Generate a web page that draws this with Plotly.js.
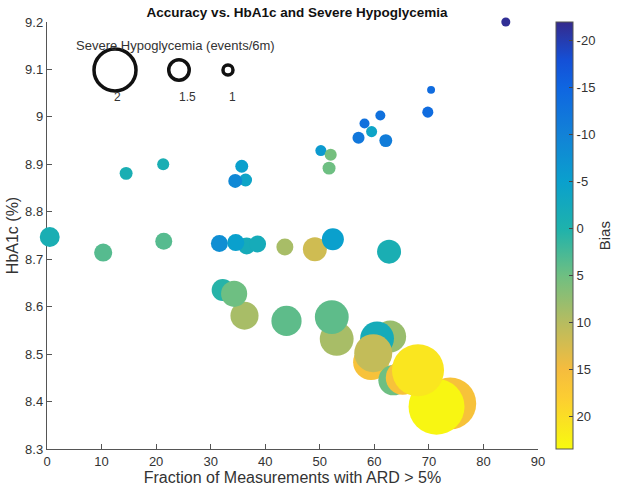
<!DOCTYPE html>
<html>
<head>
<meta charset="utf-8">
<script src="https://cdn.plot.ly/plotly-3.0.1.min.js"></script>
<style>html,body{margin:0;padding:0;background:#fff;}#chart{width:628px;height:488px;}</style>
</head>
<body>
<div id="chart"></div>
<script>
// Fraction of measurements with ARD > 5% (%)
var fractionARD = [84.1, 70.4, 69.8, 61.1, 58.2, 59.5, 57.1, 62.1, 50.2, 52.0, 51.7, 14.5, 21.3, 35.7, 36.4, 34.5,
  0.5, 10.3, 21.4, 31.6, 36.6, 34.6, 38.6, 43.6, 49.1, 52.4, 62.7,
  36.2, 32.2, 34.3, 43.9, 53.1, 52.2, 62.9, 60.5, 59.4, 59.8, 63.5, 65.2, 73.9, 71.4, 68.0];
// HbA1c (%)
var hba1c = [9.2, 9.057, 9.01, 9.003, 8.986, 8.969, 8.956, 8.95, 8.929, 8.92, 8.892, 8.881, 8.9, 8.896, 8.867, 8.865,
  8.747, 8.714, 8.738, 8.733, 8.728, 8.735, 8.732, 8.726, 8.721, 8.742, 8.716,
  8.581, 8.635, 8.627, 8.57, 8.532, 8.578, 8.537, 8.533, 8.483, 8.502, 8.445, 8.45, 8.396, 8.389, 8.466];
// Severe hypoglycemia (events/6m)
var severeHypo = [0.93, 0.84, 1.07, 1.0, 1.0, 1.07, 1.13, 1.18, 1.07, 1.13, 1.18, 1.18, 1.13, 1.18, 1.18, 1.23,
  1.48, 1.41, 1.37, 1.37, 1.37, 1.37, 1.37, 1.37, 1.61, 1.55, 1.61,
  1.72, 1.55, 1.67, 1.77, 1.85, 1.85, 1.81, 1.85, 1.89, 1.93, 1.77, 1.85, 2.15, 2.2, 2.15];
// Bias
var bias = [-21.5, -14, -14, -13, -13, -4, -12, -11, -6, 5.5, 5, -1, -1, -5, -4, -9,
  -1, 3.5, 3.5, -8, -2, -5, -2, 9, 12, -5, -1,
  9, 0.5, 5, 4, 9, 4, 8, -2, 16, 11, 5, 16, 16, 23, 21];

// size legend
var legendHypo = [2, 1.5, 1];
var legendLabels = ['2', '1.5', '1'];
var colorbarTicks = [-20, -15, -10, -5, 0, 5, 10, 15, 20];
var xTicks = [0, 10, 20, 30, 40, 50, 60, 70, 80, 90];
var yTicks = [8.3, 8.4, 8.5, 8.6, 8.7, 8.8, 8.9, 9.0, 9.1, 9.2];

var biasMin = -22, biasMax = 23.5;

function hypoToSize(v) { return 10 * Math.exp(1.435 * (v - 1)); }

// parula-like stops in bias-fraction space (0 = low bias, 1 = high bias)
var parula = [
  [0.0, 'rgb(53,42,140)'],
  [0.09, 'rgb(20,80,215)'],
  [0.154, 'rgb(15,102,225)'],
  [0.264, 'rgb(18,130,215)'],
  [0.374, 'rgb(10,160,205)'],
  [0.484, 'rgb(30,178,172)'],
  [0.593, 'rgb(110,191,130)'],
  [0.703, 'rgb(182,188,96)'],
  [0.813, 'rgb(245,188,62)'],
  [0.879, 'rgb(252,205,50)'],
  [1.0, 'rgb(248,250,15)']
];
// colorbar is reversed (negative bias at the top): plot -bias with the flipped scale
var colorscale = parula.map(function (s) { return [1 - s[0], s[1]]; }).reverse();
var negBias = bias.map(function (b) { return -b; });

var FONT = 'Liberation Sans, Arial, sans-serif';

var main = {
  type: 'scatter', mode: 'markers',
  x: fractionARD, y: hba1c,
  cliponaxis: false,
  hoverinfo: 'skip',
  marker: {
    size: severeHypo.map(hypoToSize), sizemode: 'diameter',
    color: negBias, cmin: -biasMax, cmax: -biasMin,
    colorscale: colorscale, showscale: true,
    line: { width: 0 }, opacity: 1,
    colorbar: {
      x: 1.037, xanchor: 'left', xref: 'paper', xpad: 0, ypad: 0,
      y: 0.5, yanchor: 'middle', len: 1, lenmode: 'fraction',
      thickness: 17, outlinewidth: 1, outlinecolor: '#555',
      tickmode: 'array', tickvals: colorbarTicks,
      ticktext: colorbarTicks.map(function (t) { return String(-t); }),
      ticks: 'inside', ticklen: 4, tickcolor: '#444',
      tickfont: { family: FONT, size: 13, color: '#333' }
    }
  }
};

var legendX = [0.1385, 0.2688, 0.3686];
var legendKeys = {
  type: 'scatter', mode: 'markers',
  x: legendX, y: [0.8876, 0.8876, 0.8876],
  xaxis: 'x2', yaxis: 'y2', cliponaxis: false, hoverinfo: 'skip',
  marker: { symbol: 'circle-open', size: legendHypo.map(hypoToSize), color: '#111', opacity: 1, line: { width: 3.5, color: '#111' } }
};

var annotations = [
  { xref: 'paper', yref: 'paper', x: 0.2607, y: 0.944, text: 'Severe Hypoglycemia (events/6m)', showarrow: false,
    font: { family: FONT, size: 13, color: '#333' }, xanchor: 'center', yanchor: 'middle' },
  { xref: 'paper', yref: 'paper', x: 1.136, y: 0.5, text: 'Bias', showarrow: false, textangle: -90,
    font: { family: FONT, size: 15, color: '#333' }, xanchor: 'center', yanchor: 'middle' }
];
var labelX = [0.1426, 0.287, 0.377];
legendLabels.forEach(function (t, i) {
  annotations.push({ xref: 'paper', yref: 'paper', x: labelX[i], y: 0.824, text: t, showarrow: false,
    font: { family: FONT, size: 12, color: '#333' }, xanchor: 'center', yanchor: 'middle' });
});

var layout = {
  width: 628, height: 488,
  margin: { l: 47, r: 90, t: 22, b: 39, pad: 0 },
  paper_bgcolor: '#fff', plot_bgcolor: '#fff',
  showlegend: false,
  font: { family: FONT, color: '#333' },
  title: { text: '<b>Accuracy vs. HbA1c and Severe Hypoglycemia</b>', x: 0.473, xanchor: 'center', y: 0.975, yanchor: 'middle',
    font: { family: FONT, size: 13.5, color: '#111' } },
  xaxis: {
    range: [0, 90], tickmode: 'array', tickvals: xTicks, ticktext: xTicks.map(String),
    showgrid: false, zeroline: false, showline: true, linecolor: '#555', linewidth: 1.2,
    ticks: 'inside', ticklen: 5, tickcolor: '#555', layer: 'below traces',
    tickfont: { family: FONT, size: 13, color: '#333' },
    title: { text: 'Fraction of Measurements with ARD > 5%', font: { family: FONT, size: 16, color: '#333' }, standoff: 0 }
  },
  yaxis: {
    range: [8.3, 9.2], tickmode: 'array', tickvals: yTicks, ticktext: yTicks.map(function (v) { return String(+v.toFixed(1)); }),
    showgrid: false, zeroline: false, showline: true, linecolor: '#555', linewidth: 1.2,
    ticks: 'inside', ticklen: 5, tickcolor: '#555', layer: 'below traces',
    tickfont: { family: FONT, size: 13, color: '#333' },
    title: { text: 'HbA1c (%)', font: { family: FONT, size: 16, color: '#333' }, standoff: 2 }
  },
  xaxis2: { overlaying: 'x', range: [0, 1], visible: false, fixedrange: true },
  yaxis2: { overlaying: 'y', range: [0, 1], visible: false, fixedrange: true },
  annotations: annotations
};

Plotly.newPlot('chart', [main, legendKeys], layout, { staticPlot: true, displayModeBar: false });
</script>
</body>
</html>
